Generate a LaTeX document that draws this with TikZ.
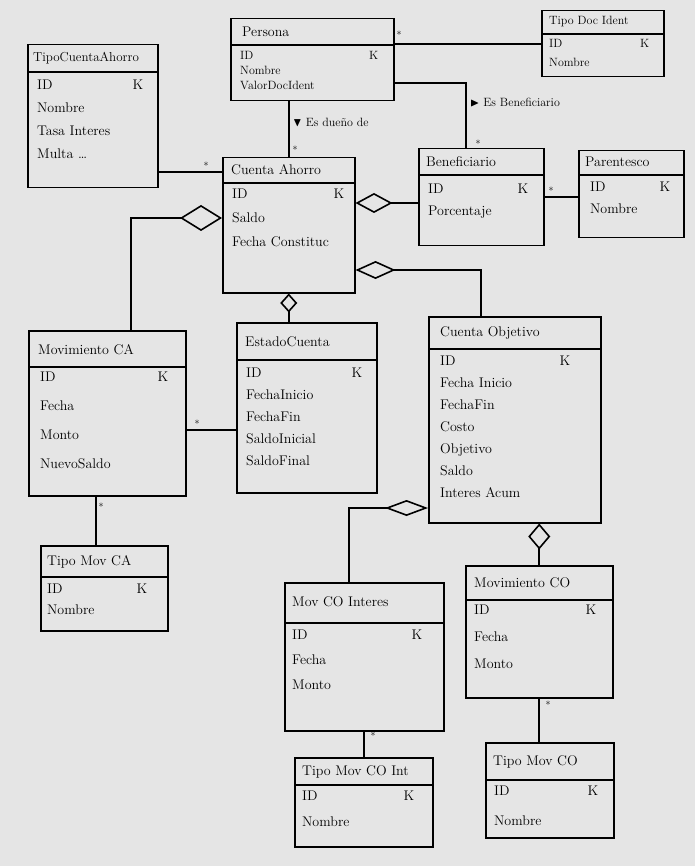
\documentclass[tikz,border=0pt]{standalone}
\usepackage{amssymb}
\usetikzlibrary{arrows.meta}

\begin{document}
\begin{tikzpicture}[x=1pt, y=-1pt,
 cls/.style={draw, line width=1.5pt, anchor=north west, inner sep=0pt},
 divider/.style={line width=1.5pt},
 ttl/.style={anchor=west, inner sep=0pt, font=\fontsize{14}{16}\selectfont},
 attr/.style 2 args={anchor=north west, align=left, inner sep=0pt, font=\fontsize{#1}{#2}\selectfont},
 link/.style={line width=1.6pt},
 agg/.style args={#1/#2}{line width=1.6pt, {Diamond[open,length=#1,width=#2]}-},
 mult/.style={inner sep=1pt, font=\normalsize},
 role/.style={anchor=west, inner sep=0pt, font=\fontsize{12}{14}\selectfont}]
\useasboundingbox (0,0) rectangle (695,866);
\fill[black!10] (0,0) rectangle (695,866);

% Persona
\node[cls, minimum width=163pt, minimum height=82pt] (persona) at (230,18) {};
\draw[divider] (persona.west |- 0,45) -- (persona.east |- 0,45);
\node[ttl] at (242,32) {Persona};
\node[attr={12}{15}, text width=138pt] at (240,51) {ID\hfill K\\Nombre\\ValorDocIdent};

% TipoCuentaAhorro
\node[cls, minimum width=130pt, minimum height=143pt] (tipoCuentaAhorro) at (27,44) {};
\draw[divider] (tipoCuentaAhorro.west |- 0,72) -- (tipoCuentaAhorro.east |- 0,72);
\node[ttl, font=\fontsize{13}{15}\selectfont] at (33,58) {TipoCuentaAhorro};
\node[attr={14}{23}, text width=106pt] at (37,80) {ID\hfill K\\Nombre\\Tasa Interes\\Multa \dots};

% TipoDocIdent
\node[cls, minimum width=122pt, minimum height=66pt] (tipoDocIdent) at (541,10) {};
\draw[divider] (tipoDocIdent.west |- 0,34) -- (tipoDocIdent.east |- 0,34);
\node[ttl, font=\fontsize{12}{14}\selectfont] at (549,22) {Tipo Doc Ident};
\node[attr={12}{19}, text width=100pt] at (549,39) {ID\hfill K\\Nombre};

% CuentaAhorro
\node[cls, minimum width=132pt, minimum height=135pt] (cuentaAhorro) at (222,157) {};
\draw[divider] (cuentaAhorro.west |- 0,183) -- (cuentaAhorro.east |- 0,183);
\node[ttl] at (231,170) {Cuenta Ahorro};
\node[attr={14}{24}, text width=112pt] at (232,189) {ID\hfill K\\Saldo\\Fecha Constituc};

% Beneficiario
\node[cls, minimum width=125pt, minimum height=97pt] (beneficiario) at (418,148) {};
\draw[divider] (beneficiario.west |- 0,175) -- (beneficiario.east |- 0,175);
\node[ttl] at (426,162) {Beneficiario};
\node[attr={14}{22}, text width=100pt] at (428,184) {ID\hfill K\\Porcentaje};

% Parentesco
\node[cls, minimum width=105pt, minimum height=87pt] (parentesco) at (578,150) {};
\draw[divider] (parentesco.west |- 0,175) -- (parentesco.east |- 0,175);
\node[ttl] at (585,162) {Parentesco};
\node[attr={14}{22}, text width=80pt] at (590,182) {ID\hfill K\\Nombre};

% MovimientoCA
\node[cls, minimum width=157pt, minimum height=165pt] (movimientoCA) at (28,330) {};
\draw[divider] (movimientoCA.west |- 0,367) -- (movimientoCA.east |- 0,367);
\node[ttl] at (38,350) {Movimiento CA};
\node[attr={14}{29}, text width=128pt] at (40,372) {ID\hfill K\\Fecha\\Monto\\NuevoSaldo};

% EstadoCuenta
\node[cls, minimum width=140pt, minimum height=170pt] (estadoCuenta) at (236,322) {};
\draw[divider] (estadoCuenta.west |- 0,360) -- (estadoCuenta.east |- 0,360);
\node[ttl] at (245,342) {EstadoCuenta};
\node[attr={14}{22}, text width=116pt] at (246,368) {ID\hfill K\\FechaInicio\\FechaFin\\SaldoInicial\\SaldoFinal};

% CuentaObjetivo
\node[cls, minimum width=172pt, minimum height=206pt] (cuentaObjetivo) at (428,316) {};
\draw[divider] (cuentaObjetivo.west |- 0,349) -- (cuentaObjetivo.east |- 0,349);
\node[ttl] at (440,333) {Cuenta Objetivo};
\node[attr={14}{22}, text width=130pt] at (440,356) {ID\hfill K\\Fecha Inicio\\FechaFin\\Costo\\Objetivo\\Saldo\\Interes Acum};

% TipoMovCA
\node[cls, minimum width=127pt, minimum height=85pt] (tipoMovCA) at (40,545) {};
\draw[divider] (tipoMovCA.west |- 0,577) -- (tipoMovCA.east |- 0,577);
\node[ttl] at (47,562) {Tipo Mov CA};
\node[attr={14}{21}, text width=100pt] at (47,584) {ID\hfill K\\Nombre};

% MovCOInteres
\node[cls, minimum width=159pt, minimum height=148pt] (movCOInteres) at (284,582) {};
\draw[divider] (movCOInteres.west |- 0,623) -- (movCOInteres.east |- 0,623);
\node[ttl] at (292,602) {Mov CO Interes};
\node[attr={14}{25}, text width=130pt] at (292,630) {ID\hfill K\\Fecha\\Monto};

% MovimientoCO
\node[cls, minimum width=147pt, minimum height=132pt] (movimientoCO) at (465,565) {};
\draw[divider] (movimientoCO.west |- 0,600) -- (movimientoCO.east |- 0,600);
\node[ttl] at (474,583) {Movimiento CO};
\node[attr={14}{27}, text width=122pt] at (474,605) {ID\hfill K\\Fecha\\Monto};

% TipoMovCOInt
\node[cls, minimum width=138pt, minimum height=89pt] (tipoMovCOInt) at (294,757) {};
\draw[divider] (tipoMovCOInt.west |- 0,785) -- (tipoMovCOInt.east |- 0,785);
\node[ttl] at (302,772) {Tipo Mov CO Int};
\node[attr={14}{26}, text width=112pt] at (302,791) {ID\hfill K\\Nombre};

% TipoMovCO
\node[cls, minimum width=128pt, minimum height=95pt] (tipoMovCO) at (485,742) {};
\draw[divider] (tipoMovCO.west |- 0,780) -- (tipoMovCO.east |- 0,780);
\node[ttl] at (493,762) {Tipo Mov CO};
\node[attr={14}{30}, text width=104pt] at (494,786) {ID\hfill K\\Nombre};

% associations
\draw[link] (persona.east |- tipoDocIdent.west) -- (tipoDocIdent.west);
\node[mult] (mPersonaDoc) at (399,35) {*};
\draw[link] (persona.east |- 0,83) -| ([xshift=-15pt]beneficiario.north);
\node[mult] (mBenef) at (478,144) {*};
\node[role] (lblBenef) at (470,102) {$\blacktriangleright$ Es Beneficiario};
\draw[link] (persona.south -| cuentaAhorro.north) -- (cuentaAhorro.north);
\node[mult] (mDueno) at (295,150) {*};
\node[role] (lblDueno) at (293,122) {$\blacktriangledown$ Es dueño de};
\draw[link] (tipoCuentaAhorro.east |- 0,172) -- (cuentaAhorro.west |- 0,172);
\node[mult] (mTipoCA) at (206,166) {*};
\draw[link] (beneficiario.east) -- (beneficiario.east -| parentesco.west);
\node[mult] (mParent) at (551,191) {*};
\draw[link] (movimientoCA.east |- 0,430) -- (estadoCuenta.west |- 0,430);
\node[mult] (mMovEst) at (197,424) {*};
\draw[link] ([xshift=-8pt]tipoMovCA.north |- movimientoCA.south) -- ([xshift=-8pt]tipoMovCA.north);
\node[mult] (mTipoMovCA) at (101,507) {*};
\draw[link] (movCOInteres.south -| tipoMovCOInt.north) -- (tipoMovCOInt.north);
\node[mult] (mTipoCOInt) at (373,736) {*};
\draw[link] (movimientoCO.south) -- (movimientoCO.south |- tipoMovCO.north);
\node[mult] (mTipoCO) at (548,705) {*};

% aggregations
\draw[agg=37pt/20pt] (cuentaAhorro.east |- 0,203) -- (beneficiario.west |- 0,203);
\draw[agg=42pt/26pt] (cuentaAhorro.west |- 0,218) -| ([xshift=24pt]movimientoCA.north);
\draw[agg=19pt/17pt] (cuentaAhorro.south) -- (cuentaAhorro.south |- estadoCuenta.north);
\draw[agg=40pt/18pt] (cuentaAhorro.east |- 0,270) -| ([xshift=-34pt]cuentaObjetivo.north);
\draw[agg=43pt/16pt] (cuentaObjetivo.west |- 0,508) -| ([xshift=-15pt]movCOInteres.north);
\draw[agg=26pt/22pt] (cuentaObjetivo.south -| movimientoCO.north) -- (movimientoCO.north);
\end{tikzpicture}
\end{document}
